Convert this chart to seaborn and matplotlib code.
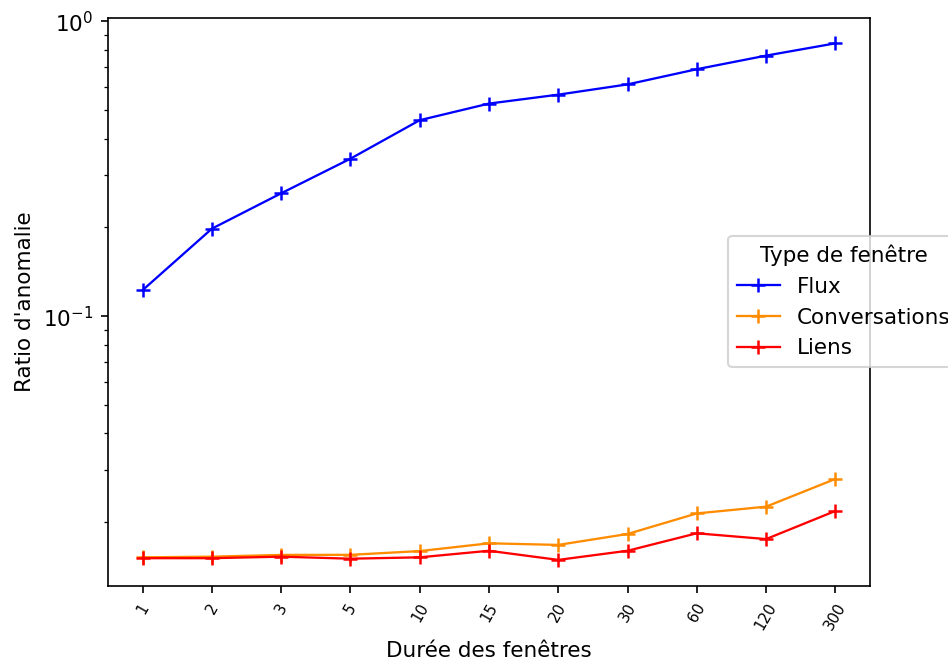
import pandas as pd
import matplotlib
matplotlib.use('Agg')
import matplotlib.pyplot as plt
import seaborn as sns

# Window durations (categorical x axis)
durees = ['1', '2', '3', '5', '10', '15', '20', '30', '60', '120', '300']

# Anomaly ratio per window type
flux = [0.1225, 0.198, 0.261, 0.342, 0.462, 0.526, 0.564, 0.611, 0.688, 0.765, 0.842]
conversations = [0.0152, 0.01528, 0.01549, 0.0155, 0.01596, 0.01696, 0.01675, 0.01824, 0.02142, 0.02258, 0.02803]
liens = [0.0151, 0.0151, 0.01528, 0.01504, 0.0152, 0.0160, 0.0149, 0.0160, 0.01834, 0.01753, 0.02183]

types = ['Flux', 'Conversations', 'Liens']
couleurs = {'Flux': 'blue', 'Conversations': 'darkorange', 'Liens': 'red'}

# --- Long-form table for seaborn ---
df = pd.concat([
    pd.DataFrame({'duree': durees, 'ratio': vals, 'type': t})
    for t, vals in zip(types, [flux, conversations, liens])
], ignore_index=True)

fs = 10.3
plt.rcParams['font.size'] = fs

fig = plt.figure(figsize=(948 / 150, 661 / 150), dpi=150)
ax = fig.add_axes([0.1139, 0.1139, 0.8038, 0.8596])

sns.lineplot(data=df, x='duree', y='ratio', hue='type', hue_order=types,
             palette=couleurs, marker='+', markersize=7, markeredgewidth=1.2,
             linewidth=1.1, dashes=False, sort=False, ax=ax)

# seaborn draws white marker edges; '+' needs the line colour
for line in ax.lines:
    line.set_markeredgecolor(line.get_color())

ax.set_yscale('log')
ax.set_xlabel('Durée des fenêtres', fontsize=fs)
ax.set_ylabel("Ratio d'anomalie", fontsize=fs)
ax.tick_params(axis='y', labelsize=fs)
ax.tick_params(axis='x', labelsize=7.2, labelrotation=60)

ax.legend(title='Type de fenêtre', loc='center left', bbox_to_anchor=(0.8, 0.5),
          fontsize=fs, title_fontsize=fs)

fig.savefig('out.png', dpi=150)
